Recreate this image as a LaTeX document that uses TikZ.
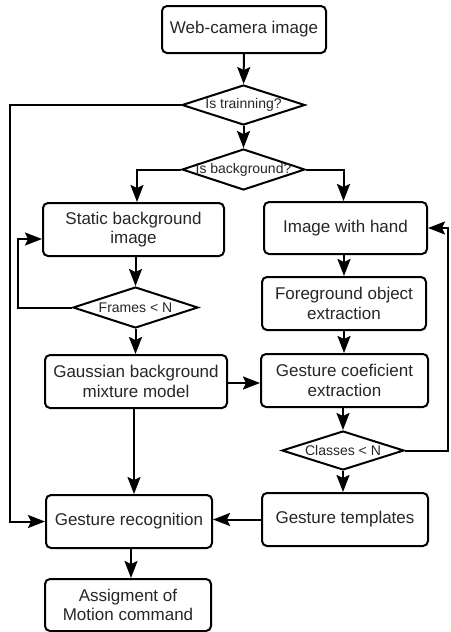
\documentclass[tikz,border=0pt]{standalone}
\usepackage{fontspec}
\setmainfont{Liberation Sans}
\usetikzlibrary{arrows.meta,shapes.geometric}
\tikzset{
  box/.style={draw, line width=2pt, rounded corners=5pt, inner sep=0pt, align=center,
    text=black!85, font=\fontsize{17}{19.5}\selectfont},
  dec/.style={draw, diamond, line width=2pt, inner sep=0pt, text=black!85,
    font=\fontsize{14}{16}\selectfont},
  arr/.style={line width=2pt, -{Stealth[length=17pt,width=13pt,inset=3pt]}},
  ln/.style={line width=2pt}
}
\begin{document}
\begin{tikzpicture}[x=1pt,y=-1pt]
\useasboundingbox (0,0) rectangle (450,632);
% boxes
\node[box, minimum width=164, minimum height=47] (web) at (244,29.5) {Web-camera image};
\node[box, minimum width=181, minimum height=53] (static) at (133.5,229.5) {Static background\\image};
\node[box, minimum width=163, minimum height=52] (hand) at (345.5,228) {Image with hand};
\node[box, minimum width=164, minimum height=53] (fg) at (344,303.5) {Foreground object\\extraction};
\node[box, minimum width=182, minimum height=53] (gauss) at (136,381.5) {Gaussian background\\mixture model};
\node[box, minimum width=167, minimum height=53] (coef) at (344.5,380.5) {Gesture coeficient\\extraction};
\node[box, minimum width=166, minimum height=53] (templ) at (345,519.5) {Gesture templates};
\node[box, minimum width=166, minimum height=53] (recog) at (129,521.5) {Gesture recognition};
\node[box, minimum width=166, minimum height=52] (assign) at (128,605) {Assigment of\\Motion command};
% decisions
\node[dec, minimum width=123, minimum height=40] (train) at (243.5,105) {\makebox[0pt]{Is trainning?}};
\node[dec, minimum width=123, minimum height=41] (bg) at (243.5,169.5) {\makebox[0pt]{Is background?}};
\node[dec, minimum width=125, minimum height=41] (frames) at (135.5,307.5) {\makebox[0pt]{Frames < N}};
\node[dec, minimum width=122, minimum height=39] (classes) at (343,450.5) {\makebox[0pt]{Classes < N}};
% helper coordinates
\coordinate (lft) at (10,0);
\coordinate (lft2) at (18,0);
\coordinate (rgt) at (448,0);
% connectors
\draw[arr] (web) -- (train);
\draw[arr] (train.west) -- (train.west -| lft) -- (recog.west -| lft) -- (recog.west);
\draw[arr] (train) -- (bg);
\draw[arr] (bg.west) -| ([xshift=3.5pt]static.north);
\draw[arr] (bg.east) -| ([xshift=-2pt]hand.north);
\draw[arr] (static.south -| frames.north) -- (frames.north);
\draw[arr] (frames.west) -- (frames.west -| lft2) -- ([yshift=-9.5pt]static.west -| lft2) -- ([yshift=-9.5pt]static.west);
\draw[arr] (frames.south) -- (frames.south |- gauss.north);
\draw[arr] (hand.south -| fg.north) -- (fg.north);
\draw[arr] (fg.south) -- (fg.south |- coef.north);
\draw[arr] ([yshift=-1.5pt]gauss.east) -- ([yshift=-1.5pt]gauss.east -| coef.west);
\draw[arr] (coef.south -| classes.north) -- (classes.north);
\draw[arr] (classes.east) -- (classes.east -| rgt) -- (hand.east -| rgt) -- (hand.east);
\draw[arr] (classes.south) -- (classes.south |- templ.north);
\draw[arr] (templ.west) -- (templ.west -| recog.east);
\draw[arr] ([xshift=-2pt]gauss.south) -- ([xshift=-2pt]gauss.south |- recog.north);
\draw[arr] ([xshift=2pt]recog.south) -- ([xshift=2pt]recog.south |- assign.north);
\end{tikzpicture}
\end{document}
